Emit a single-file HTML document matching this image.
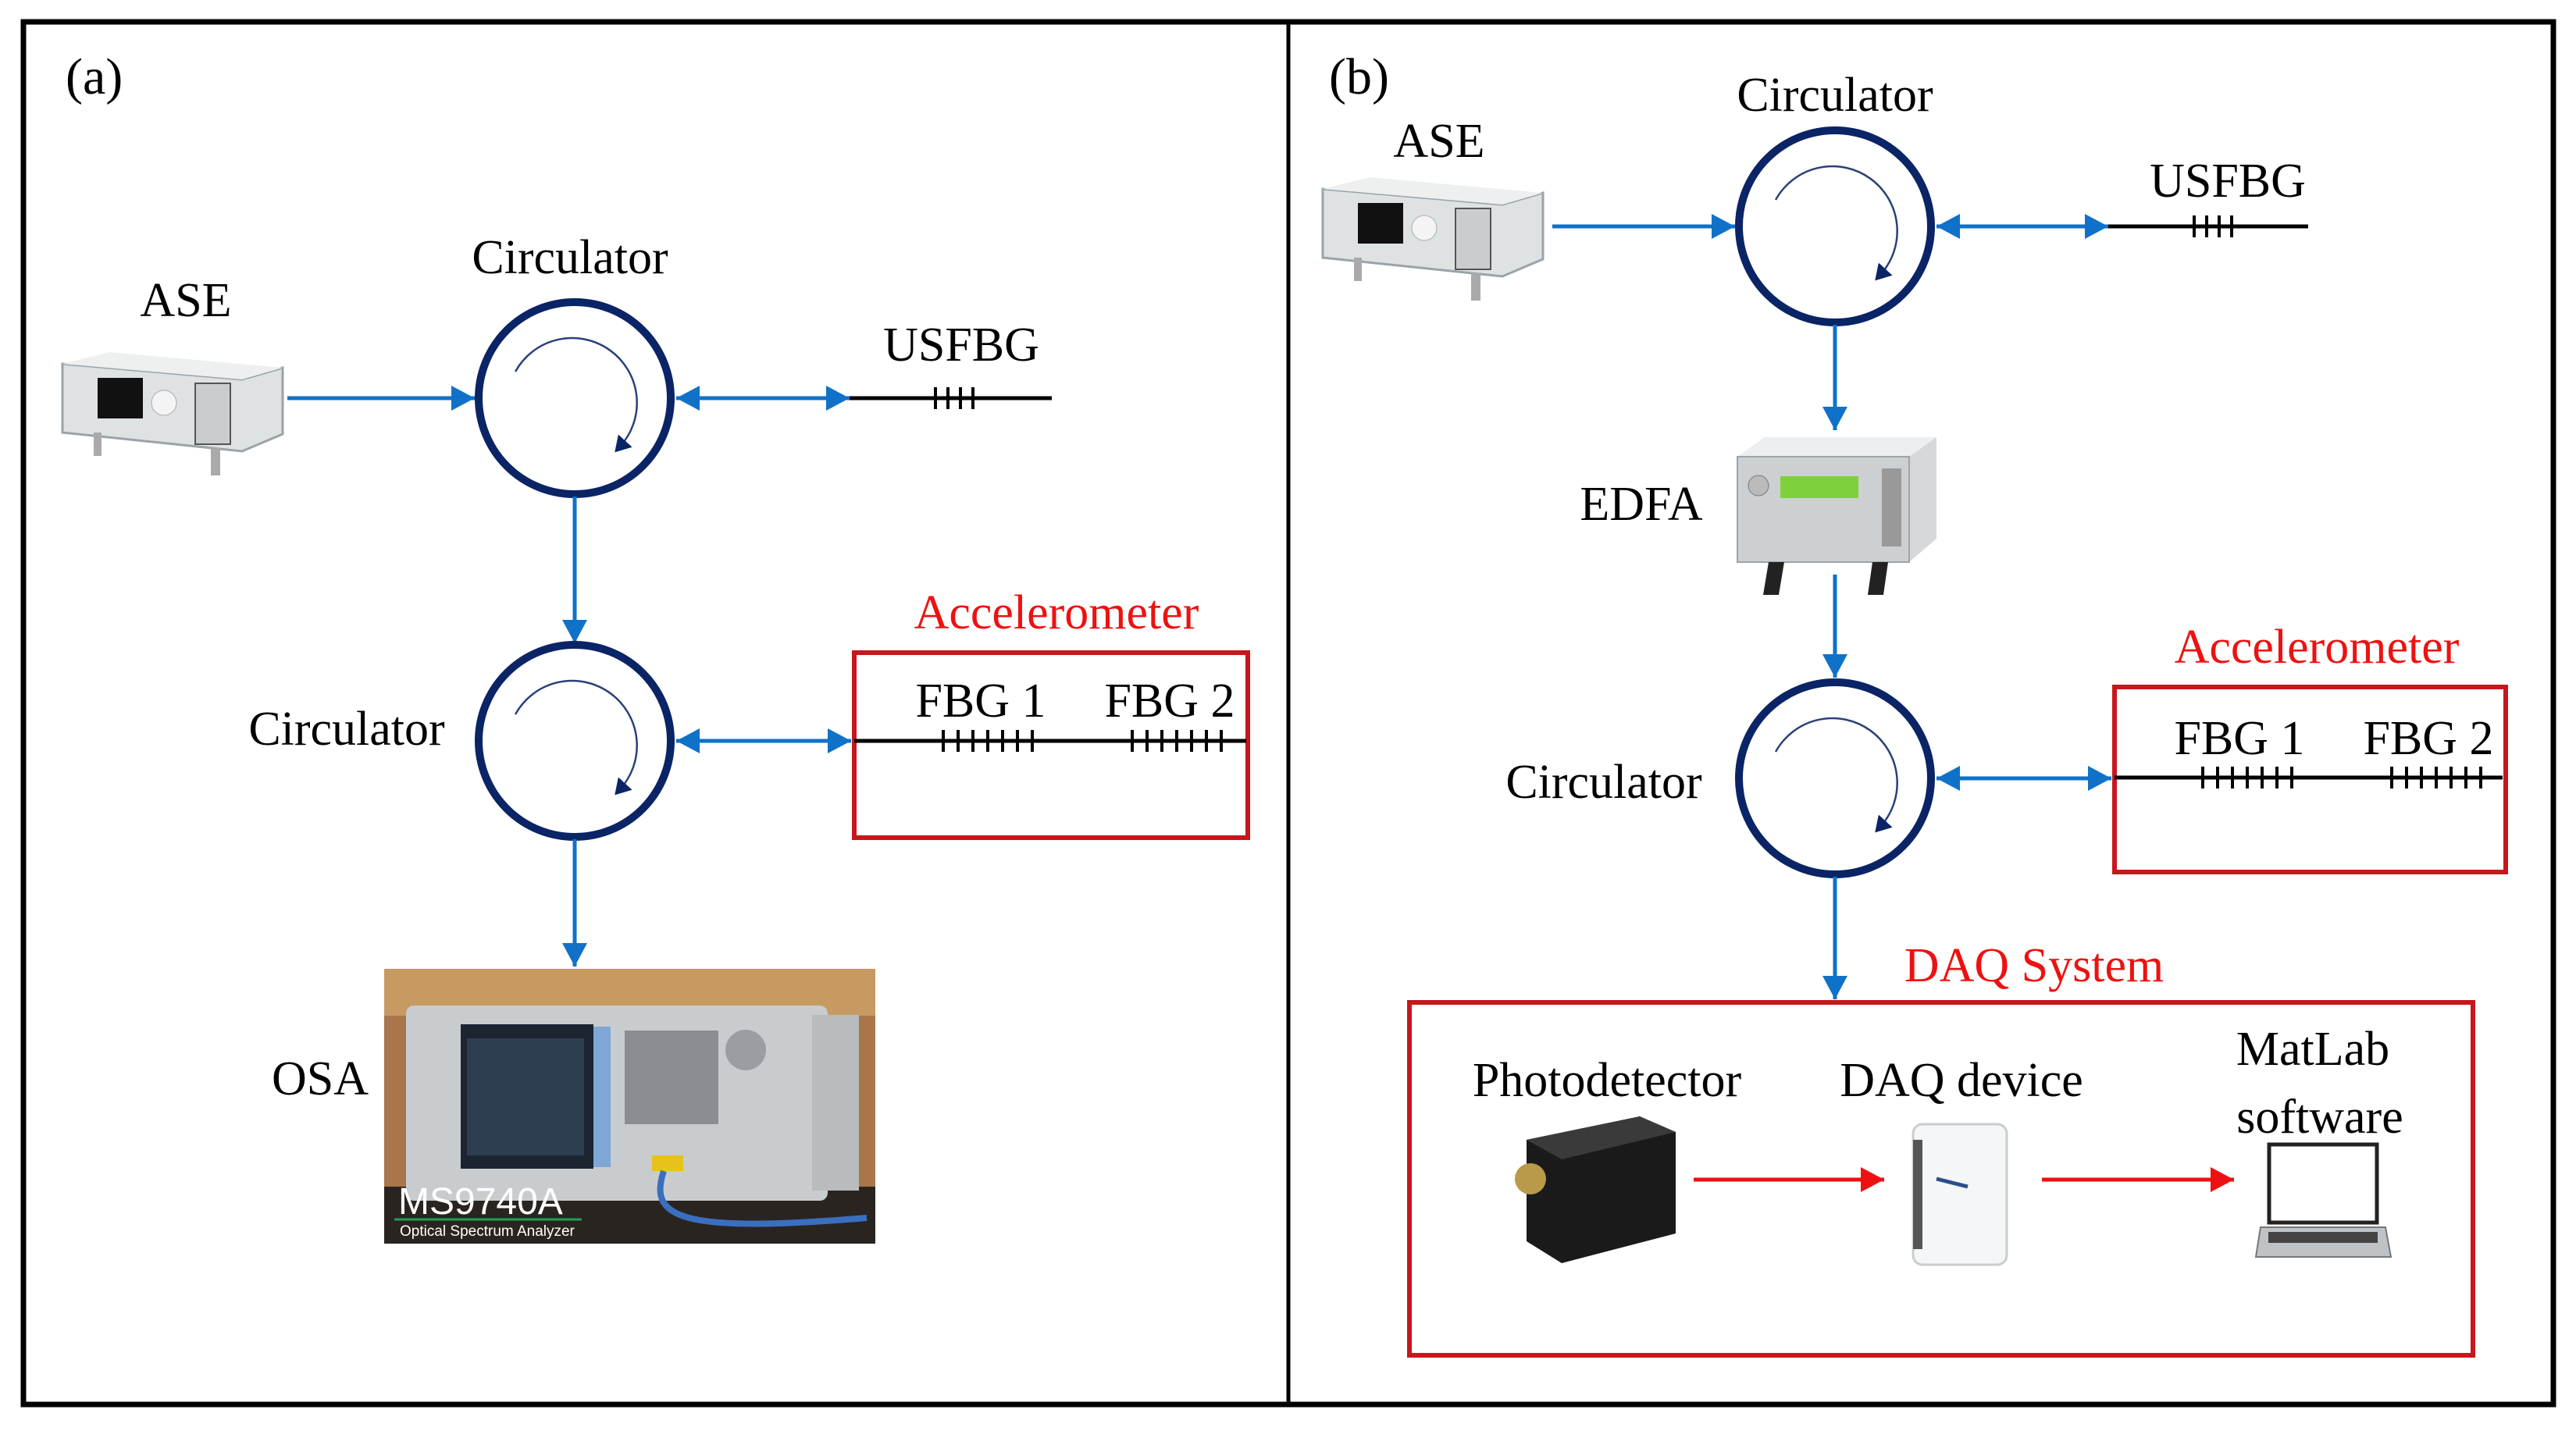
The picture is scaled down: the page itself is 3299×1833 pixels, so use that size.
<!DOCTYPE html>
<html><head><meta charset="utf-8"><style>
html,body{margin:0;padding:0;background:#fff;}
svg{display:block;}
text{font-family:"Liberation Serif",serif;}
text.sans{font-family:"Liberation Sans",sans-serif;}
</style></head><body>
<svg width="3299" height="1833" viewBox="0 0 3299 1833" xmlns="http://www.w3.org/2000/svg">
<defs>
<marker id="ab" viewBox="0 0 30 32" refX="30" refY="16" markerWidth="30" markerHeight="32" markerUnits="userSpaceOnUse" orient="auto-start-reverse"><path d="M0,0 L30,16 L0,32 Z" fill="#0f72c8"/></marker>
<marker id="ar" viewBox="0 0 30 32" refX="30" refY="16" markerWidth="30" markerHeight="32" markerUnits="userSpaceOnUse" orient="auto"><path d="M0,0 L30,16 L0,32 Z" fill="#ee1111"/></marker>
<marker id="an" viewBox="0 0 20 24" refX="10" refY="12" markerWidth="20" markerHeight="24" markerUnits="userSpaceOnUse" orient="auto"><path d="M0,0 L20,12 L0,24 Z" fill="#0a2466"/></marker>
<g id="circ">
<circle cx="0" cy="0" r="123" fill="none" stroke="#0a2466" stroke-width="10"/>
<path d="M-76,-34 A83,83 0 1 1 58,62" fill="none" stroke="#2a4178" stroke-width="2.5" marker-end="url(#an)"/>
</g>
<g id="ase">
<polygon points="0,20 230,40 282,25 282,110 230,132 0,108" fill="#dfe2e3" stroke="#9aa4a8" stroke-width="3"/>
<polygon points="0,20 230,40 282,25 60,5" fill="#eef0f0"/>
<rect x="45" y="38" width="58" height="52" fill="#111"/>
<circle cx="130" cy="70" r="16" fill="#f4f4f4" stroke="#aaa"/>
<rect x="170" y="45" width="45" height="78" fill="#c9cdd0" stroke="#555" stroke-width="2"/>
<rect x="40" y="108" width="10" height="30" fill="#aaa"/>
<rect x="190" y="128" width="12" height="35" fill="#aaa"/>
</g>
</defs>

<rect x="30" y="28" width="3240" height="1771" fill="none" stroke="#000" stroke-width="7"/>
<line x1="1650" y1="28" x2="1650" y2="1799" stroke="#000" stroke-width="5"/>

<!-- ===== Panel (a) ===== -->
<text x="84" y="120" font-size="66">(a)</text>
<text x="238" y="405" font-size="62" text-anchor="middle">ASE</text>
<use href="#ase" transform="translate(80,446)"/>
<text x="730" y="350" font-size="62" text-anchor="middle">Circulator</text>
<use href="#circ" transform="translate(736,510)"/>
<line x1="368" y1="510" x2="608" y2="510" stroke="#0f72c8" stroke-width="5" marker-end="url(#ab)"/>
<line x1="866" y1="510" x2="1088" y2="510" stroke="#0f72c8" stroke-width="5" marker-start="url(#ab)" marker-end="url(#ab)"/>
<line x1="1088" y1="510" x2="1347" y2="510" stroke="#000" stroke-width="5"/>
<g stroke="#000" stroke-width="4"><line x1="1198" y1="496" x2="1198" y2="524"/><line x1="1214" y1="496" x2="1214" y2="524"/><line x1="1230" y1="496" x2="1230" y2="524"/><line x1="1246" y1="496" x2="1246" y2="524"/></g>
<text x="1231" y="462" font-size="62" text-anchor="middle">USFBG</text>
<line x1="736" y1="636" x2="736" y2="824" stroke="#0f72c8" stroke-width="5" marker-end="url(#ab)"/>
<text x="444" y="954" font-size="62" text-anchor="middle">Circulator</text>
<use href="#circ" transform="translate(736,949)"/>
<line x1="866" y1="949" x2="1090" y2="949" stroke="#0f72c8" stroke-width="5" marker-start="url(#ab)" marker-end="url(#ab)"/>
<rect x="1094" y="836" width="504" height="237" fill="none" stroke="#c8161d" stroke-width="6"/>
<text x="1353" y="805" font-size="62" text-anchor="middle" fill="#ee1111">Accelerometer</text>
<line x1="1094" y1="949" x2="1596" y2="949" stroke="#000" stroke-width="5"/>
<g stroke="#000" stroke-width="4">
<line x1="1208" y1="935" x2="1208" y2="963"/><line x1="1227" y1="935" x2="1227" y2="963"/><line x1="1246" y1="935" x2="1246" y2="963"/><line x1="1265" y1="935" x2="1265" y2="963"/><line x1="1284" y1="935" x2="1284" y2="963"/><line x1="1303" y1="935" x2="1303" y2="963"/><line x1="1322" y1="935" x2="1322" y2="963"/>
<line x1="1450" y1="935" x2="1450" y2="963"/><line x1="1469" y1="935" x2="1469" y2="963"/><line x1="1488" y1="935" x2="1488" y2="963"/><line x1="1507" y1="935" x2="1507" y2="963"/><line x1="1526" y1="935" x2="1526" y2="963"/><line x1="1545" y1="935" x2="1545" y2="963"/><line x1="1564" y1="935" x2="1564" y2="963"/>
</g>
<text x="1256" y="918" font-size="62" text-anchor="middle">FBG 1</text>
<text x="1498" y="918" font-size="62" text-anchor="middle">FBG 2</text>
<line x1="736" y1="1075" x2="736" y2="1238" stroke="#0f72c8" stroke-width="5" marker-end="url(#ab)"/>
<text x="410" y="1402" font-size="62" text-anchor="middle">OSA</text>
<g>
<rect x="492" y="1241" width="629" height="352" fill="#a8764a"/>
<rect x="492" y="1241" width="629" height="60" fill="#c79a62"/>
<rect x="492" y="1520" width="629" height="73" fill="#2a2420"/>
<rect x="520" y="1288" width="540" height="250" rx="10" fill="#c9ccce"/>
<rect x="1040" y="1300" width="60" height="225" fill="#b8bcbf"/>
<rect x="590" y="1312" width="170" height="185" fill="#1b2430"/>
<rect x="598" y="1330" width="150" height="150" fill="#2c3e50"/>
<rect x="760" y="1315" width="22" height="180" fill="#7fa7d6"/>
<g fill="#8a8e92"><rect x="800" y="1320" width="120" height="120"/><circle cx="955" cy="1345" r="26" fill="#9a9ea2"/></g>
<rect x="835" y="1480" width="40" height="20" fill="#e6c21a"/>
<path d="M850,1500 C830,1560 870,1580 1110,1560" stroke="#3a6fc0" stroke-width="8" fill="none"/>
<text class="sans" x="510" y="1555" font-size="48" fill="#fff">MS9740A</text>
<line x1="505" y1="1562" x2="745" y2="1562" stroke="#1fa050" stroke-width="3"/>
<text class="sans" x="512" y="1583" font-size="19" fill="#fff">Optical Spectrum Analyzer</text>
</g>

<!-- ===== Panel (b) ===== -->
<text x="1702" y="120" font-size="66">(b)</text>
<text x="1843" y="201" font-size="62" text-anchor="middle">ASE</text>
<use href="#ase" transform="translate(1694,222)"/>
<text x="2350" y="142" font-size="62" text-anchor="middle">Circulator</text>
<use href="#circ" transform="translate(2350,290)"/>
<line x1="1988" y1="290" x2="2222" y2="290" stroke="#0f72c8" stroke-width="5" marker-end="url(#ab)"/>
<line x1="2480" y1="290" x2="2700" y2="290" stroke="#0f72c8" stroke-width="5" marker-start="url(#ab)" marker-end="url(#ab)"/>
<line x1="2700" y1="290" x2="2956" y2="290" stroke="#000" stroke-width="5"/>
<g stroke="#000" stroke-width="4"><line x1="2810" y1="276" x2="2810" y2="304"/><line x1="2826" y1="276" x2="2826" y2="304"/><line x1="2842" y1="276" x2="2842" y2="304"/><line x1="2858" y1="276" x2="2858" y2="304"/></g>
<text x="2853" y="252" font-size="62" text-anchor="middle">USFBG</text>
<line x1="2350" y1="416" x2="2350" y2="551" stroke="#0f72c8" stroke-width="5" marker-end="url(#ab)"/>
<text x="2102" y="666" font-size="62" text-anchor="middle">EDFA</text>
<g>
<polygon points="2225,585 2260,560 2480,560 2480,690 2445,720 2225,720" fill="#d6d8da"/>
<polygon points="2225,585 2260,560 2480,560 2445,585" fill="#eceeef"/>
<rect x="2225" y="585" width="220" height="135" fill="#cdd0d2" stroke="#9ea3a7" stroke-width="2"/>
<rect x="2280" y="610" width="100" height="28" fill="#7fd13c"/>
<circle cx="2252" cy="622" r="13" fill="#bbb" stroke="#777"/>
<rect x="2410" y="600" width="25" height="100" fill="#999"/>
<polygon points="2265,720 2285,720 2278,762 2258,762" fill="#222"/>
<polygon points="2398,720 2418,720 2412,762 2392,762" fill="#222"/>
</g>
<line x1="2350" y1="736" x2="2350" y2="868" stroke="#0f72c8" stroke-width="5" marker-end="url(#ab)"/>
<text x="2054" y="1022" font-size="62" text-anchor="middle">Circulator</text>
<use href="#circ" transform="translate(2350,997)"/>
<line x1="2480" y1="997" x2="2704" y2="997" stroke="#0f72c8" stroke-width="5" marker-start="url(#ab)" marker-end="url(#ab)"/>
<rect x="2708" y="880" width="501" height="237" fill="none" stroke="#c8161d" stroke-width="6"/>
<text x="2967" y="849" font-size="62" text-anchor="middle" fill="#ee1111">Accelerometer</text>
<line x1="2708" y1="996" x2="3205" y2="996" stroke="#000" stroke-width="5"/>
<g stroke="#000" stroke-width="4">
<line x1="2821" y1="982" x2="2821" y2="1010"/><line x1="2840" y1="982" x2="2840" y2="1010"/><line x1="2859" y1="982" x2="2859" y2="1010"/><line x1="2878" y1="982" x2="2878" y2="1010"/><line x1="2897" y1="982" x2="2897" y2="1010"/><line x1="2916" y1="982" x2="2916" y2="1010"/><line x1="2935" y1="982" x2="2935" y2="1010"/>
<line x1="3063" y1="982" x2="3063" y2="1010"/><line x1="3082" y1="982" x2="3082" y2="1010"/><line x1="3101" y1="982" x2="3101" y2="1010"/><line x1="3120" y1="982" x2="3120" y2="1010"/><line x1="3139" y1="982" x2="3139" y2="1010"/><line x1="3158" y1="982" x2="3158" y2="1010"/><line x1="3177" y1="982" x2="3177" y2="1010"/>
</g>
<text x="2868" y="966" font-size="62" text-anchor="middle">FBG 1</text>
<text x="3110" y="966" font-size="62" text-anchor="middle">FBG 2</text>
<line x1="2350" y1="1123" x2="2350" y2="1280" stroke="#0f72c8" stroke-width="5" marker-end="url(#ab)"/>
<text x="2605" y="1257" font-size="62" text-anchor="middle" fill="#ee1111">DAQ System</text>
<rect x="1805" y="1284" width="1362" height="452" fill="none" stroke="#c8161d" stroke-width="6"/>
<text x="2058" y="1404" font-size="62" text-anchor="middle">Photodetector</text>
<text x="2512" y="1404" font-size="62" text-anchor="middle">DAQ device</text>
<text x="2962" y="1364" font-size="62" text-anchor="middle">MatLab</text>
<text x="2971" y="1451" font-size="62" text-anchor="middle">software</text>
<g>
<polygon points="1955,1460 2100,1430 2146,1450 2146,1580 2000,1618 1955,1590" fill="#1a1a1a"/>
<polygon points="1955,1460 2100,1430 2146,1450 2000,1485" fill="#3a3a3a"/>
<circle cx="1960" cy="1510" r="20" fill="#b89a4a"/>
</g>
<g>
<rect x="2450" y="1440" width="120" height="180" rx="12" fill="#f4f6f7" stroke="#c9cdd0" stroke-width="3"/>
<rect x="2450" y="1460" width="12" height="140" fill="#555"/>
<path d="M2480,1510 l40,10" stroke="#2a4e8a" stroke-width="5"/>
</g>
<g>
<rect x="2906" y="1466" width="138" height="100" fill="#fff" stroke="#222" stroke-width="5"/>
<polygon points="2895,1572 3055,1572 3062,1610 2889,1610" fill="#bfc3c6" stroke="#777" stroke-width="2"/>
<rect x="2905" y="1578" width="140" height="14" fill="#444"/>
</g>
<line x1="2169" y1="1511" x2="2413" y2="1511" stroke="#ee1111" stroke-width="5" marker-end="url(#ar)"/>
<line x1="2615" y1="1511" x2="2861" y2="1511" stroke="#ee1111" stroke-width="5" marker-end="url(#ar)"/>
</svg>
</body></html>
